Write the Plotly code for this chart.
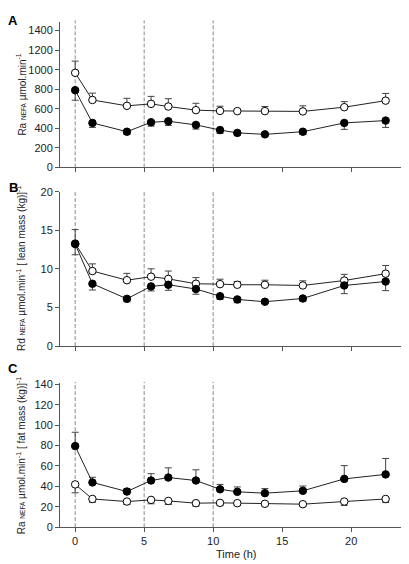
import plotly.graph_objects as go

time_h = [0, 1.25, 3.75, 5.5, 6.75, 8.75, 10.5, 11.75, 13.75, 16.5, 19.5, 22.5]

# Panel A: Ra NEFA (µmol/min)
a_open = [968, 690, 630, 650, 623, 586, 578, 576, 576, 573, 616, 683]
a_open_err = [120, 70, 77, 77, 80, 70, 48, 17, 47, 57, 57, 74]
a_fill = [790, 455, 365, 462, 472, 435, 382, 353, 338, 365, 455, 479]
a_fill_err = [103, 46, 27, 40, 43, 43, 34, 25, 13, 27, 66, 70]

# Panel B: Rd NEFA per lean mass
b_open = [13.3, 9.73, 8.54, 9.0, 8.71, 8.08, 8.03, 7.95, 7.95, 7.86, 8.5, 9.39]
b_open_err = [1.8, 0.93, 0.89, 1.02, 1.02, 0.8, 0.64, 0.42, 0.59, 0.6, 0.8, 1.06]
b_fill = [13.23, 8.08, 6.13, 7.74, 7.95, 7.4, 6.47, 6.05, 5.75, 6.17, 7.86, 8.37]
b_fill_err = [1.39, 0.81, 0.38, 0.59, 0.72, 0.68, 0.42, 0.43, 0.21, 0.34, 1.06, 1.18]

# Panel C: Ra NEFA per fat mass
c_fill = [79.4, 43.8, 34.9, 45.7, 48.6, 45.7, 37.1, 34.6, 33.3, 35.6, 47.3, 51.7]
c_fill_err = [13.6, 5.1, 2.9, 6.7, 9.5, 10.5, 4.8, 4.8, 4.5, 4.7, 13.0, 15.6]
c_open = [41.9, 27.6, 25.1, 26.7, 25.7, 23.5, 23.8, 23.5, 22.9, 22.5, 25.1, 27.6]
c_open_err = [8.2, 3.2, 2.9, 3.8, 3.5, 2.9, 2.5, 2.2, 2.0, 2.0, 3.8, 3.5]

x_ticks = [0, 5, 10, 15, 20]
a_ticks = [0, 200, 400, 600, 800, 1000, 1200, 1400]
b_ticks = [0, 5, 10, 15, 20]
c_ticks = [0, 20, 40, 60, 80, 100, 120, 140]
dash_times = [0, 5, 10]

H = 564
def dom(top, bottom):
    return [1 - bottom / H, 1 - top / H]

fig = go.Figure()

ERR_COLOR = "#444444"

def add_series(x, y, up, down, filled, xa, ya):
    zeros = [0] * len(y)
    fig.add_trace(go.Scatter(
        x=x, y=y, mode="lines+markers", xaxis=xa, yaxis=ya,
        line=dict(color="#222222", width=1),
        marker=dict(size=7.5, symbol="circle",
                    color="black" if filled else "white",
                    line=dict(color="black", width=1)),
        error_y=dict(type="data", symmetric=False,
                     array=up if up is not None else zeros,
                     arrayminus=down if down is not None else zeros,
                     color=ERR_COLOR, thickness=1, width=3.5),
        showlegend=False, hoverinfo="skip"))

add_series(time_h, a_open, a_open_err, None, False, "x", "y")
add_series(time_h, a_fill, None, a_fill_err, True, "x", "y")
add_series(time_h, b_open, b_open_err, None, False, "x2", "y2")
add_series(time_h, b_fill, None, b_fill_err, True, "x2", "y2")
add_series(time_h, c_open, None, c_open_err, False, "x3", "y3")
add_series(time_h, c_fill, c_fill_err, None, True, "x3", "y3")

FONT = "Liberation Sans, Arial, sans-serif"
font_tick = dict(family=FONT, size=11, color="#222222")
xr = [-1.1, 24.7]
axis_common = dict(showgrid=False, zeroline=False, showline=True, linecolor="#555555",
                   linewidth=1, ticks="outside", ticklen=4, tickcolor="#555555",
                   tickfont=font_tick)

domains = {"A": dom(8, 156.7), "B": dom(181.7, 339.3), "C": dom(377.3, 524.3)}

fig.update_layout(
    width=409, height=564,
    margin=dict(l=52, r=1, t=0, b=0),
    plot_bgcolor="white", paper_bgcolor="white",
    xaxis=dict(range=xr, tickvals=x_ticks, showticklabels=False, anchor="y",
               domain=[0, 1], **axis_common),
    xaxis2=dict(range=xr, tickvals=x_ticks, showticklabels=False, anchor="y2",
                domain=[0, 1], **axis_common),
    xaxis3=dict(range=xr, tickvals=x_ticks, anchor="y3", domain=[0, 1], **axis_common),
    yaxis=dict(range=[0, 1490], tickvals=a_ticks, domain=domains["A"], anchor="x", **axis_common),
    yaxis2=dict(range=[0, 20], tickvals=b_ticks, domain=domains["B"], anchor="x2", **axis_common),
    yaxis3=dict(range=[0, 141], tickvals=c_ticks, domain=domains["C"], anchor="x3", **axis_common),
)

# dashed reference lines
for xa, ya in [("x", "y"), ("x2", "y2"), ("x3", "y3")]:
    for t in dash_times:
        fig.add_shape(type="line", xref=xa, yref=ya + " domain", x0=t, x1=t, y0=0, y1=1.01,
                      line=dict(color="#8a8a8a", width=1, dash="4px,2px"), layer="below")

title_font = dict(family=FONT, size=10, color="#222222")
sub = "<span style='font-size:6.5px'>NEFA</span>"
titles = {
    "A": "Ra " + sub + " µmol.min<sup>-1</sup>",
    "B": "Rd " + sub + " µmol.min<sup>-1</sup> [ lean mass (kg)]<sup>-1</sup>",
    "C": "Ra " + sub + " µmol.min<sup>-1</sup> [ fat mass (kg)]<sup>-1</sup>",
}
for k in ["A", "B", "C"]:
    d = domains[k]
    fig.add_annotation(text=titles[k], textangle=-90, xref="paper", yref="paper",
                       x=0, xshift=-39, y=(d[0] + d[1]) / 2, xanchor="center",
                       yanchor="middle", showarrow=False, font=title_font)

fig.add_annotation(text="Time (h)", xref="paper", yref="paper", x=0.495, y=1 - 552 / H,
                   xanchor="center", yanchor="middle", showarrow=False, font=font_tick)

letter_pos = {"A": 7, "B": 177, "C": 362}
for k, ypix in letter_pos.items():
    fig.add_annotation(text="<b>" + k + "</b>", xref="paper", yref="paper",
                       x=0, xshift=-47, y=1 - ypix / H, xanchor="center", yanchor="middle",
                       showarrow=False,
                       font=dict(family=FONT, size=13, color="black"))

fig.write_html("out.html")
